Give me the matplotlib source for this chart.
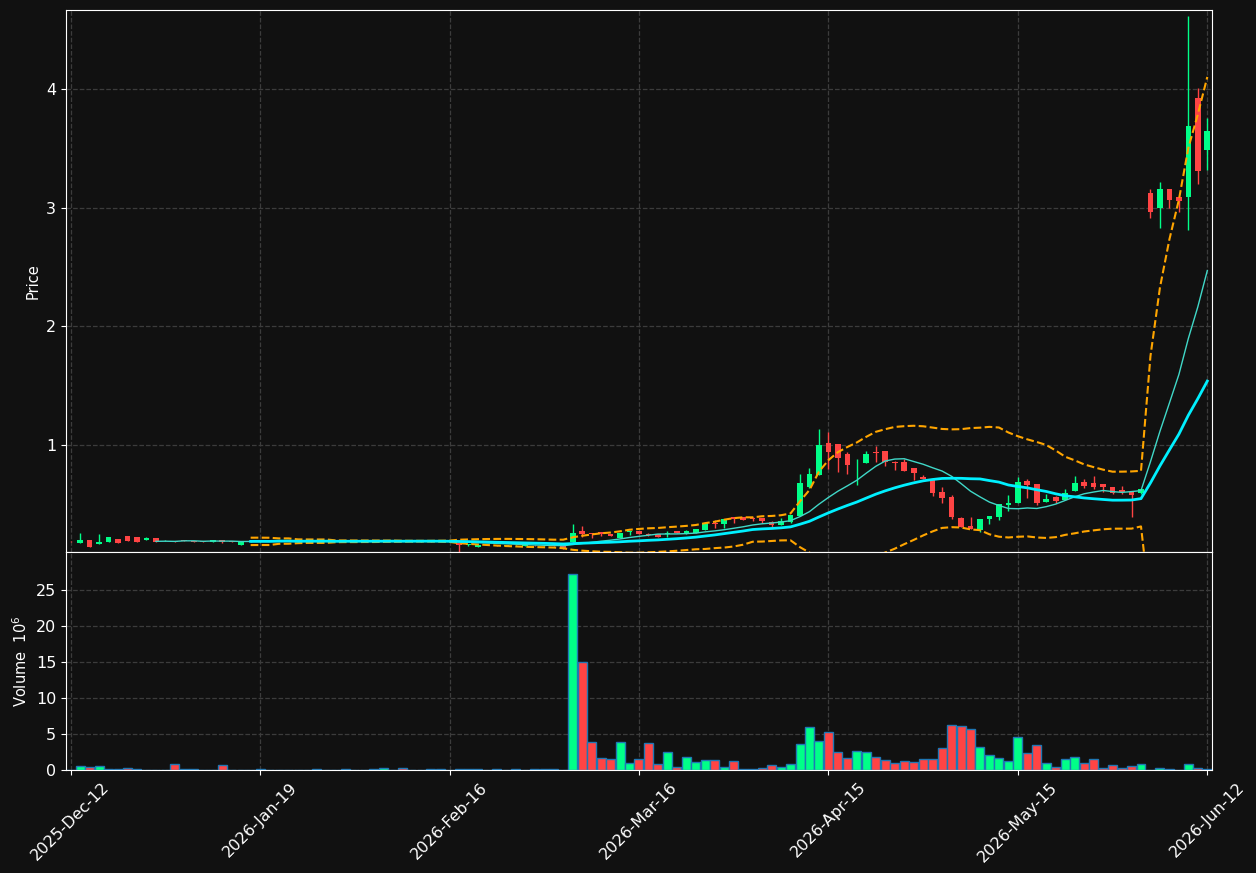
import numpy as np
import pandas as pd
import matplotlib
matplotlib.use("Agg")
import matplotlib.pyplot as plt

# daily OHLC (price) and volume (millions), one entry per trading bar
opens = [0.185, 0.177, 0.198, 0.167, 0.184, 0.207, 0.232, 0.224, 0.201, 0.215,
         0.188, 0.191, 0.194, 0.190, 0.187, 0.183, 0.196, 0.186, 0.159, 0.184,
         0.186, 0.195, 0.188, 0.190, 0.187, 0.189, 0.190, 0.188, 0.189, 0.190,
         0.188, 0.189, 0.190, 0.186, 0.189, 0.191, 0.187, 0.184, 0.186, 0.183,
         0.181, 0.173, 0.158, 0.139, 0.156, 0.155, 0.150, 0.152, 0.149, 0.153,
         0.152, 0.155, 0.150, 0.184, 0.274, 0.255, 0.263, 0.250, 0.215, 0.263,
         0.274, 0.245, 0.249, 0.250, 0.274, 0.255, 0.257, 0.283, 0.345, 0.333,
         0.390, 0.390, 0.381, 0.384, 0.353, 0.325, 0.353, 0.401, 0.643, 0.747,
         1.019, 1.008, 0.924, 0.829, 0.846, 0.937, 0.949, 0.859, 0.859, 0.806,
         0.733, 0.711, 0.603, 0.559, 0.387, 0.316, 0.283, 0.373, 0.395, 0.491,
         0.508, 0.699, 0.671, 0.521, 0.564, 0.536, 0.612, 0.690, 0.682, 0.671,
         0.643, 0.620, 0.606, 0.597, 3.129, 3.003, 3.160, 3.095, 3.095, 3.925,
         3.490]
highs = [0.187, 0.257, 0.199, 0.250, 0.225, 0.208, 0.233, 0.225, 0.222, 0.216,
         0.200, 0.193, 0.200, 0.192, 0.188, 0.197, 0.197, 0.187, 0.185, 0.188,
         0.190, 0.196, 0.191, 0.192, 0.189, 0.191, 0.192, 0.190, 0.191, 0.192,
         0.190, 0.191, 0.192, 0.190, 0.191, 0.192, 0.190, 0.188, 0.188, 0.185,
         0.183, 0.175, 0.166, 0.157, 0.158, 0.157, 0.153, 0.154, 0.152, 0.155,
         0.154, 0.157, 0.152, 0.333, 0.316, 0.257, 0.265, 0.252, 0.258, 0.276,
         0.276, 0.257, 0.251, 0.277, 0.276, 0.285, 0.292, 0.340, 0.367, 0.375,
         0.392, 0.392, 0.395, 0.386, 0.355, 0.381, 0.410, 0.755, 0.803, 1.132,
         1.110, 1.010, 0.943, 0.879, 0.949, 0.990, 0.951, 0.861, 0.879, 0.808,
         0.750, 0.713, 0.643, 0.580, 0.390, 0.390, 0.378, 0.402, 0.500, 0.578,
         0.727, 0.710, 0.673, 0.584, 0.566, 0.626, 0.738, 0.711, 0.738, 0.673,
         0.645, 0.654, 0.608, 0.630, 3.158, 3.217, 3.162, 3.097, 4.620, 4.010,
         3.760]
lows = [0.178, 0.176, 0.142, 0.166, 0.184, 0.173, 0.192, 0.184, 0.200, 0.181,
        0.187, 0.181, 0.189, 0.180, 0.184, 0.182, 0.170, 0.183, 0.158, 0.182,
        0.185, 0.188, 0.186, 0.188, 0.185, 0.187, 0.188, 0.186, 0.187, 0.188,
        0.186, 0.187, 0.188, 0.185, 0.187, 0.187, 0.185, 0.182, 0.182, 0.180,
        0.178, 0.097, 0.150, 0.138, 0.152, 0.150, 0.148, 0.150, 0.147, 0.150,
        0.150, 0.147, 0.126, 0.180, 0.226, 0.215, 0.235, 0.232, 0.213, 0.240,
        0.247, 0.230, 0.224, 0.222, 0.255, 0.253, 0.255, 0.282, 0.297, 0.302,
        0.344, 0.365, 0.359, 0.339, 0.311, 0.323, 0.339, 0.400, 0.640, 0.745,
        0.795, 0.775, 0.755, 0.662, 0.845, 0.854, 0.826, 0.789, 0.783, 0.705,
        0.710, 0.572, 0.508, 0.373, 0.310, 0.287, 0.263, 0.330, 0.367, 0.446,
        0.507, 0.550, 0.491, 0.520, 0.508, 0.535, 0.610, 0.635, 0.632, 0.601,
        0.590, 0.586, 0.395, 0.584, 2.913, 2.827, 2.997, 2.964, 2.810, 3.200,
        3.320]
closes = [0.180, 0.198, 0.142, 0.181, 0.224, 0.173, 0.192, 0.184, 0.215, 0.181,
          0.191, 0.182, 0.190, 0.181, 0.185, 0.196, 0.182, 0.184, 0.184, 0.186,
          0.188, 0.189, 0.190, 0.188, 0.188, 0.190, 0.189, 0.189, 0.190, 0.188,
          0.189, 0.190, 0.187, 0.189, 0.190, 0.187, 0.188, 0.186, 0.184, 0.181,
          0.180, 0.156, 0.160, 0.156, 0.154, 0.151, 0.151, 0.153, 0.150, 0.152,
          0.153, 0.148, 0.128, 0.255, 0.249, 0.247, 0.249, 0.234, 0.257, 0.274,
          0.249, 0.243, 0.226, 0.260, 0.257, 0.274, 0.291, 0.339, 0.337, 0.373,
          0.373, 0.367, 0.378, 0.361, 0.322, 0.356, 0.409, 0.682, 0.755, 1.000,
          0.943, 0.893, 0.831, 0.833, 0.924, 0.933, 0.854, 0.846, 0.783, 0.766,
          0.711, 0.597, 0.555, 0.390, 0.311, 0.289, 0.376, 0.401, 0.500, 0.513,
          0.688, 0.662, 0.513, 0.544, 0.527, 0.597, 0.682, 0.657, 0.648, 0.643,
          0.592, 0.600, 0.578, 0.626, 2.969, 3.160, 3.068, 3.062, 3.692, 3.312,
          3.650]
volumes = [0.05, 0.55, 0.42, 0.55, 0.10, 0.10, 0.28, 0.08, 0.05, 0.05,
           0.05, 0.83, 0.10, 0.10, 0.05, 0.05, 0.69, 0.05, 0.05, 0.05,
           0.07, 0.05, 0.05, 0.05, 0.05, 0.05, 0.10, 0.05, 0.05, 0.10,
           0.05, 0.05, 0.10, 0.23, 0.05, 0.25, 0.05, 0.05, 0.10, 0.10,
           0.05, 0.10, 0.10, 0.10, 0.05, 0.10, 0.05, 0.10, 0.05, 0.10,
           0.10, 0.10, 0.02, 27.3, 15.0, 3.93, 1.71, 1.48, 3.93, 0.93,
           1.57, 3.80, 0.79, 2.55, 0.46, 1.85, 1.06, 1.34, 1.43, 0.46,
           1.20, 0.19, 0.19, 0.32, 0.65, 0.37, 0.83, 3.60, 5.93, 4.03,
           5.23, 2.50, 1.62, 2.64, 2.50, 1.76, 1.39, 0.97, 1.25, 1.11,
           1.53, 1.53, 3.01, 6.20, 6.06, 5.65, 3.15, 2.04, 1.62, 1.20,
           4.54, 2.31, 3.43, 0.93, 0.37, 1.48, 1.76, 0.93, 1.48, 0.23,
           0.65, 0.23, 0.51, 0.79, 0.05, 0.23, 0.10, 0.05, 0.79, 0.23,
           0.10]
tick_pos = [0, 20, 40, 60, 80, 100, 120]
tick_labels = ['2025-Dec-12', '2026-Jan-19', '2026-Feb-16', '2026-Mar-16',
               '2026-Apr-15', '2026-May-15', '2026-Jun-12']

df = pd.DataFrame({'open': opens, 'high': highs, 'low': lows,
                   'close': closes, 'volume': volumes})
df['sma10'] = df['close'].rolling(10).mean()
df['sma20'] = df['close'].rolling(20).mean()
std20 = df['close'].rolling(20).std(ddof=0)
df['bb_up'] = df['sma20'] + 2 * std20
df['bb_low'] = df['sma20'] - 2 * std20

BG = '#111111'
UP = '#00ff88'
DOWN = '#ff4444'
x = np.arange(len(df))
colors = [UP if c >= o else DOWN for o, c in zip(df['open'], df['close'])]

fig = plt.figure(figsize=(12.56, 8.73), dpi=100, facecolor=BG)
ax1 = fig.add_axes([0.0525, 0.3677, 0.9125, 0.6208])
ax2 = fig.add_axes([0.0525, 0.118, 0.9125, 0.2497], sharex=ax1)

for ax in (ax1, ax2):
    ax.set_facecolor(BG)
    for s in ax.spines.values():
        s.set_color('white')
    ax.tick_params(colors='white', labelsize=11.5)
    ax.grid(True, ls='--', color='#3c3c3c', lw=0.9)
    ax.set_axisbelow(True)

# candles
ax1.vlines(x, df['low'], df['high'], colors=colors, lw=1, zorder=2)
body = np.maximum((df['close'] - df['open']).abs(), 0.005)
ax1.bar(x, body, bottom=np.minimum(df['open'], df['close']), width=0.6,
        color=colors, lw=0, zorder=3)

# indicators
ax1.plot(x, df['bb_up'], color='orange', ls='--', lw=1.5, zorder=4)
ax1.plot(x, df['bb_low'], color='orange', ls='--', lw=1.5, zorder=4)
ax1.plot(x, df['sma10'], color='#40d8c8', lw=1, zorder=4)
ax1.plot(x, df['sma20'], color='#00f0ff', lw=2, zorder=4)

ax1.set_ylim(0.097, 4.67)
ax1.set_yticks([1, 2, 3, 4])
ax1.set_ylabel('Price', color='white', fontsize=10.5)
plt.setp(ax1.get_xticklabels(), visible=False)

# volume
ax2.bar(x, df['volume'], width=0.95, color=colors, edgecolor='#1f77b4', lw=1)
ax2.set_ylim(0, 30.3)
ax2.set_yticks([0, 5, 10, 15, 20, 25])
ax2.set_ylabel('Volume  $10^{6}$', color='white', fontsize=10.5)

ax2.set_xlim(-0.5, 120.5)
ax2.set_xticks(tick_pos)
ax2.set_xticklabels(tick_labels, rotation=45, ha='center')

fig.savefig('out.png', dpi=100, facecolor=BG)
